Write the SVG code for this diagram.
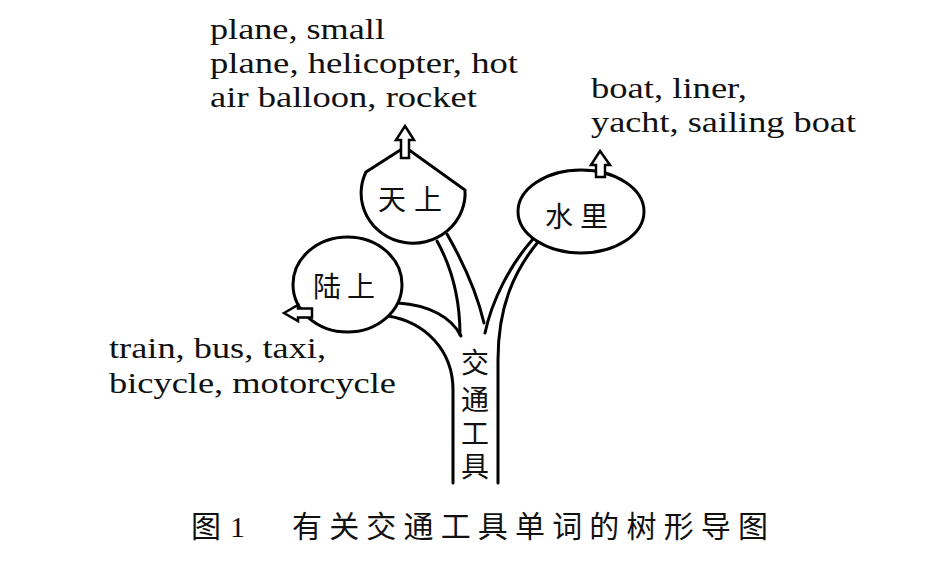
<svg xmlns="http://www.w3.org/2000/svg" width="934" height="561" viewBox="0 0 934 561">
<style>
.ln{fill:none;stroke:#000;stroke-width:3;stroke-linecap:round}
.nd{fill:#fff;stroke:#000;stroke-width:3}
.ar{fill:#fff;stroke:#000;stroke-width:2.5;stroke-linejoin:miter}
.en{font-family:"Liberation Serif","Times New Roman",serif;font-size:30px;fill:#111}
.cj{font-family:"Noto Sans CJK SC","Noto Sans CJK JP",sans-serif;font-size:28px;fill:#111;text-anchor:middle}
.cap{font-family:"Noto Sans CJK SC","Noto Sans CJK JP",sans-serif;font-size:30px;fill:#111;text-anchor:middle}
</style>
<rect width="934" height="561" fill="#fff"/>
<g id="connectors">
<path class="ln" d="M453 483 L453 390 C453 350 425 322 388 316"/>
<path class="ln" d="M398 303 C430 305 452 318 461 336"/>
<path class="ln" d="M437 241 C452 268 460 300 460 335"/>
<path class="ln" d="M447 234 C463 262 477 293 484 323"/>
<path class="ln" d="M533 239 C510 265 492 300 485 333"/>
<path class="ln" d="M538 242 C515 270 498 305 498 360 L498 483"/>
</g>
<g id="node-sky">
<path class="nd" d="M366 172 L405 147 L465 190 A52 50 0 1 1 366 172 Z"/>
<polygon class="ar" points="405,126 414,140 409,140 409,158 401,158 401,140 396,140"/>
<text class="cj" x="392 428" y="210">天上</text>
</g>
<g id="node-land">
<ellipse class="nd" cx="347.5" cy="284.5" rx="54.5" ry="47.5"/>
<polygon class="ar" points="284,313 298,305 298,308.5 312,308.5 312,317.5 298,317.5 298,321"/>
<text class="cj" x="327 361" y="297">陆上</text>
</g>
<g id="node-water">
<ellipse class="nd" cx="581" cy="211.5" rx="63" ry="41.5"/>
<polygon class="ar" points="600,151 610,165 605,165 605,177 596,177 596,165 591,165"/>
<text class="cj" x="559 594" y="227">水里</text>
</g>
<g id="node-trunk">
<text class="cj" x="475 475 475 475" y="373 410 444 477">交通工具</text>
</g>
<g id="label-sky">
<text class="en" x="210" y="39" textLength="175" lengthAdjust="spacingAndGlyphs">plane, small</text>
<text class="en" x="210" y="73" textLength="308" lengthAdjust="spacingAndGlyphs">plane, helicopter, hot</text>
<text class="en" x="210" y="107" textLength="267" lengthAdjust="spacingAndGlyphs">air balloon, rocket</text>
</g>
<g id="label-water">
<text class="en" x="591" y="98" textLength="156" lengthAdjust="spacingAndGlyphs">boat, liner,</text>
<text class="en" x="591" y="132" textLength="265" lengthAdjust="spacingAndGlyphs">yacht, sailing boat</text>
</g>
<g id="label-land">
<text class="en" x="109" y="358" textLength="217" lengthAdjust="spacingAndGlyphs">train, bus, taxi,</text>
<text class="en" x="109" y="393" textLength="287" lengthAdjust="spacingAndGlyphs">bicycle, motorcycle</text>
</g>
<g id="caption">
<text class="cap" x="206" y="537">图</text>
<text class="en" x="230" y="537">1</text>
<text class="cap" x="307 344.2 381.3 418.5 455.7 492.8 530 567.2 604.3 641.5 678.7 715.8 753" y="537">有关交通工具单词的树形导图</text>
</g>
</svg>
